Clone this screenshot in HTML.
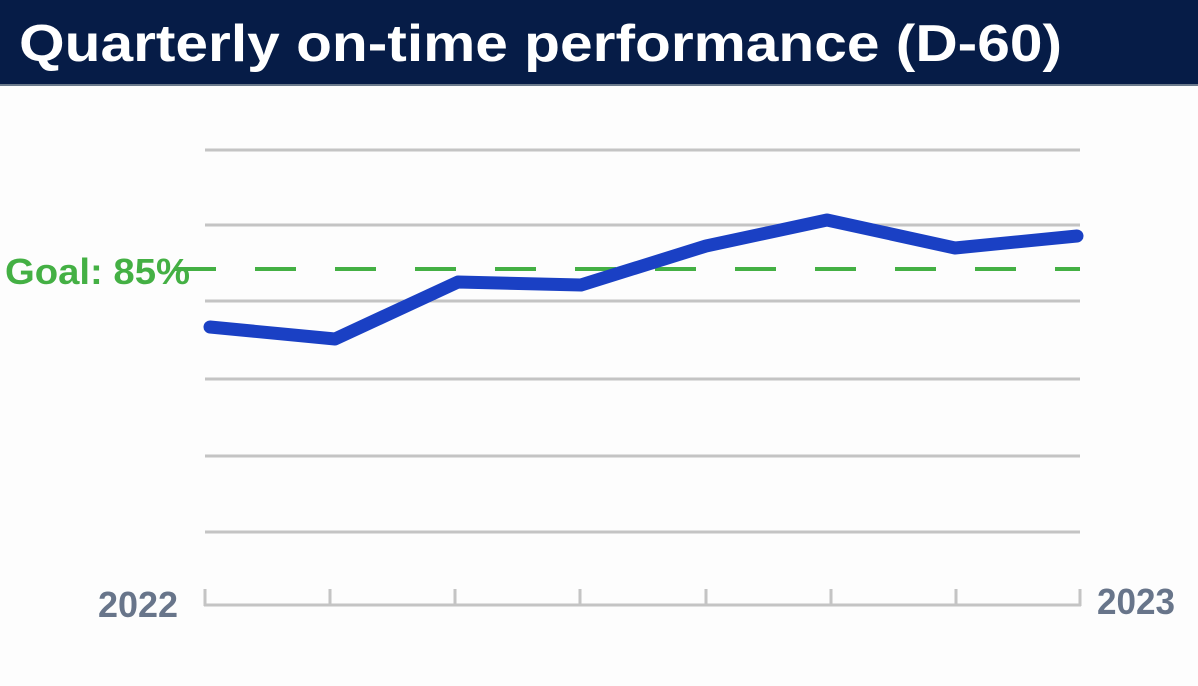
<!DOCTYPE html>
<html><head><meta charset="utf-8"><style>
html,body{margin:0;padding:0;background:#fdfdfd;}
body{width:1198px;height:686px;overflow:hidden;position:relative;font-family:"Liberation Sans",sans-serif;}
.bar{position:absolute;left:0;top:0;width:1198px;height:84px;background:#061c47;border-bottom:2px solid #6b7a8c;}
</style></head><body>
<div class="bar"></div>
<svg width="1198" height="686" style="position:absolute;left:0;top:0">
<text x="19" y="61" font-family="Liberation Sans" font-weight="bold" font-size="52" fill="#fff" textLength="1043" lengthAdjust="spacingAndGlyphs">Quarterly on-time performance (D-60)</text>
<g stroke="#c4c4c4" stroke-width="3">
<line x1="205" x2="1080" y1="150" y2="150"/>
<line x1="205" x2="1080" y1="225" y2="225"/>
<line x1="205" x2="1080" y1="301" y2="301"/>
<line x1="205" x2="1080" y1="379" y2="379"/>
<line x1="205" x2="1080" y1="456" y2="456"/>
<line x1="205" x2="1080" y1="532" y2="532"/>
<line x1="204" x2="1081" y1="605" y2="605"/>
<line x1="205" x2="205" y1="589" y2="606"/>
<line x1="330" x2="330" y1="589" y2="606"/>
<line x1="455" x2="455" y1="589" y2="606"/>
<line x1="580" x2="580" y1="589" y2="606"/>
<line x1="706" x2="706" y1="589" y2="606"/>
<line x1="831" x2="831" y1="589" y2="606"/>
<line x1="956" x2="956" y1="589" y2="606"/>
<line x1="1080" x2="1080" y1="589" y2="606"/>
</g>
<line x1="175" x2="1080" y1="269" y2="269" stroke="#44b044" stroke-width="4" stroke-dasharray="41 39"/>
<polyline points="210,327 335,339 458,282 581,285 706,246 827,220 955,248 1077,236" fill="none" stroke="#1a40c4" stroke-width="13" stroke-linecap="round" stroke-linejoin="round"/>
<text x="5" y="284" font-family="Liberation Sans" font-weight="bold" font-size="36" fill="#44b044" textLength="185" lengthAdjust="spacingAndGlyphs">Goal: 85%</text>
<text x="98" y="617" font-family="Liberation Sans" font-weight="bold" font-size="36" fill="#68758a" textLength="80" lengthAdjust="spacingAndGlyphs">2022</text>
<text x="1097" y="614" font-family="Liberation Sans" font-weight="bold" font-size="36" fill="#68758a" textLength="78" lengthAdjust="spacingAndGlyphs">2023</text>
</svg>
</body></html>
